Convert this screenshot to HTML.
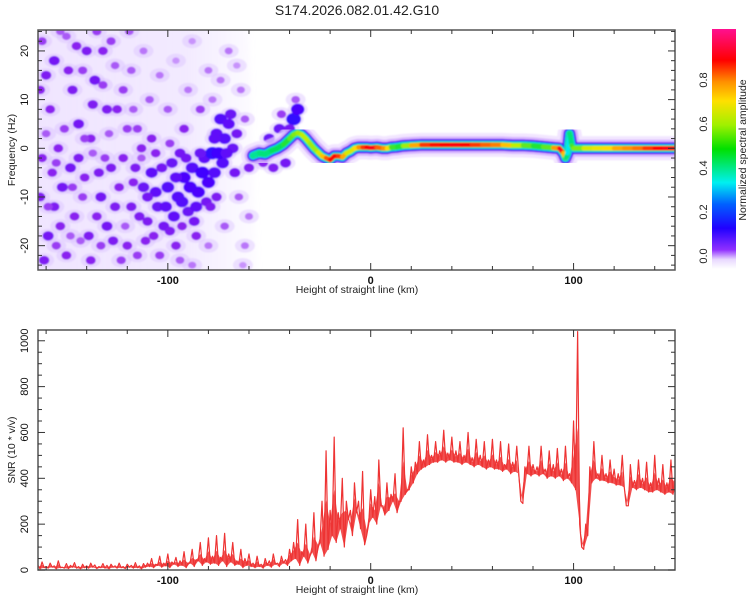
<!DOCTYPE html>
<html><head><meta charset="utf-8"><style>
body{margin:0;background:#fff;}
svg{display:block;font-family:"Liberation Sans",sans-serif;}
</style></head><body>
<svg id="chart" width="750" height="600" viewBox="0 0 750 600" xmlns="http://www.w3.org/2000/svg">
<defs>
<clipPath id="clipTop"><rect x="38" y="30" width="637" height="240"/></clipPath>
<clipPath id="clipBot"><rect x="38" y="330" width="637" height="240"/></clipPath>
<filter id="soft"><feGaussianBlur stdDeviation="0.9"/></filter>
<filter id="soft2"><feGaussianBlur stdDeviation="3"/></filter>
<linearGradient id="wash" x1="0" y1="0" x2="1" y2="0">
<stop offset="0" stop-color="#dcc4ff" stop-opacity="0.45"/>
<stop offset="0.7" stop-color="#dcc4ff" stop-opacity="0.35"/>
<stop offset="1" stop-color="#e8d8ff" stop-opacity="0.1"/>
</linearGradient>
<linearGradient id="cbar" x1="0" y1="1" x2="0" y2="0">
<stop offset="0" stop-color="#ffffff"/>
<stop offset="0.04" stop-color="#e8d8ff"/>
<stop offset="0.08" stop-color="#9030ff"/>
<stop offset="0.17" stop-color="#2000ff"/>
<stop offset="0.27" stop-color="#0060ff"/>
<stop offset="0.36" stop-color="#00f0f0"/>
<stop offset="0.5" stop-color="#00e000"/>
<stop offset="0.6" stop-color="#a0f000"/>
<stop offset="0.7" stop-color="#ffe000"/>
<stop offset="0.78" stop-color="#ff9000"/>
<stop offset="0.87" stop-color="#ff0000"/>
<stop offset="1" stop-color="#ff1090"/>
</linearGradient>
</defs>
<text x="357" y="15" font-size="14" text-anchor="middle" fill="#222">S174.2026.082.01.42.G10</text>
<g id="topPanel"></g>
<g id="botPanel"></g>
<g id="cbPanel"></g>
</svg>
<script>
// ---- spectrogram data ----
const ridgeX=[-58,-55,-52,-49,-46,-43,-40,-38,-36,-34,-32,-30,-28,-26,-24,-22,-20,-18,-16,-14,-12,-10,-8,-6,-4,-2,0,3,6,8,10,13,16,20,25,30,35,40,45,50,55,60,65,70,75,80,85,90,93,95,96,97,98,99,100,105,110,115,120,125,130,135,140,145,150];
const ridgeF=[-1.5,-1,-1.2,-0.5,0,0.8,2,2.8,3.2,2.8,2,1,0,-0.8,-1.6,-2,-2.4,-1.6,-1.6,-1.8,-1,-0.6,0,0.2,0.2,0.2,0.1,0.2,0,0,0.2,0.3,0.5,0.6,0.7,0.7,0.7,0.7,0.7,0.7,0.7,0.7,0.7,0.6,0.6,0.5,0.3,0.1,0,-1,-2,-1,3,0.5,0,0,0,0,0,0,0,0,0,0,0];
const ridgeA=[0.3,0.45,0.35,0.45,0.4,0.45,0.5,0.55,0.55,0.6,0.6,0.6,0.55,0.6,0.65,0.75,0.85,0.9,0.85,0.8,0.65,0.6,0.65,0.7,0.8,0.85,0.9,0.88,0.7,0.8,0.55,0.45,0.5,0.65,0.8,0.85,0.87,0.88,0.88,0.85,0.8,0.78,0.75,0.65,0.55,0.5,0.45,0.6,0.88,0.9,0.5,0.3,0.3,0.5,0.5,0.6,0.65,0.65,0.7,0.75,0.75,0.8,0.85,0.88,0.9];
const noise=[[-162,22,0.07],[-156,18,0.1],[-150,23,0.06],[-147,12,0.09],[-144,5,0.1],[-158,8,0.08],[-162,-2,0.08],[-152,-8,0.1],[-146,-14,0.08],[-159,-18,0.1],[-150,-22,0.08],[-140,20,0.09],[-136,14,0.1],[-138,2,0.08],[-134,-5,0.09],[-142,-10,0.07],[-130,-16,0.1],[-138,-23,0.08],[-128,22,0.07],[-125,8,0.08],[-122,-2,0.08],[-126,-12,0.09],[-120,-20,0.08],[-118,16,0.06],[-115,4,0.07],[-112,-8,0.11],[-108,-5,0.12],[-105,-12,0.11],[-100,-8,0.13],[-98,-3,0.11],[-95,-10,0.13],[-92,-6,0.14],[-90,-13,0.11],[-88,-4,0.13],[-85,-9,0.14],[-82,-2,0.12],[-80,-7,0.14],[-78,-1,0.16],[-76,3,0.12],[-74,6,0.13],[-72,2,0.13],[-70,5,0.12],[-73,-3,0.13],[-68,0,0.11],[-66,3,0.1],[-102,-16,0.1],[-110,-15,0.09],[-96,-20,0.08],[-108,2,0.08],[-100,8,0.06],[-90,12,0.05],[-80,16,0.05],[-70,20,0.05],[-65,-10,0.06],[-62,-20,0.05],[-64,12,0.05],[-115,-22,0.07],[-130,8,0.09],[-144,-2,0.09],[-156,-12,0.09],[-133,-10,0.1],[-118,-12,0.09],[-122,12,0.07],[-104,-22,0.07],[-86,-18,0.08],[-92,4,0.08],[-84,8,0.07],[-60,-4,0.09],[-56,-2,0.1],[-50,2,0.11],[-45,4,0.11],[-42,-3,0.1],[-38,6,0.16],[-36,8,0.14],[-48,-4,0.09],[-160,15,0.09],[-154,0,0.08],[-148,-4,0.1],[-142,16,0.07],[-132,20,0.08],[-128,-4,0.09],[-124,-8,0.08],[-120,4,0.07],[-116,-4,0.09],[-114,-14,0.09],[-106,-9,0.12],[-103,-4,0.1],[-97,-14,0.12],[-94,-1,0.1],[-89,-8,0.14],[-86,-12,0.12],[-83,-5,0.15],[-81,-11,0.1],[-77,-5,0.13],[-75,-1,0.15],[-71,-1,0.12],[-69,7,0.11],[-67,-5,0.1],[-163,-10,0.09],[-163,12,0.08],[-161,-23,0.09],[-153,-16,0.08],[-139,-18,0.09],[-135,-14,0.08],[-127,-19,0.09],[-123,-23,0.07],[-131,-2,0.07],[-137,9,0.09],[-145,21,0.08],[-151,4,0.07],[-157,-5,0.08],[-141,-6,0.08],[-111,-19,0.08],[-107,-18,0.08],[-99,-17,0.09],[-93,-16,0.08],[-109,10,0.06],[-112,20,0.05],[-104,15,0.05],[-96,18,0.04],[-88,22,0.04],[-78,10,0.05],[-74,14,0.05],[-66,17,0.04],[-62,6,0.06],[-60,-14,0.05],[-63,-24,0.04],[-72,-16,0.06],[-80,-20,0.05],[-88,-24,0.05],[-76,-10,0.09],[-94,-23,0.06],[-119,24,0.06],[-135,24,0.07],[-153,24,0.06],[-117,8,0.06],[-113,0,0.08],[-40,4,0.1],[-37,10,0.06],[-53,-3,0.08],[-44,7,0.07],
[-160,3,0.06],[-155,-20,0.07],[-149,16,0.08],[-143,-19,0.06],[-137,-1,0.06],[-132,13,0.07],[-129,3,0.06],[-126,17,0.06],[-121,-16,0.06],[-117,-7,0.08],[-113,-2,0.06],[-110,-10,0.1],[-106,-1,0.08],[-101,-12,0.12],[-99,1,0.07],[-96,-6,0.12],[-93,-11,0.13],[-91,-2,0.1],[-87,-15,0.1],[-84,-1,0.11],[-79,-12,0.09],[-77,2,0.12],[-155,-3,0.07],[-147,-8,0.07],[-141,2,0.07],[-159,-12,0.07],[-148,-18,0.06],[-133,-20,0.07]];
// ---- SNR data (2 km steps from -164) ----
const snrStart=-164, snrStep=2;
const snrHigh=[20,35,15,30,18,40,12,28,20,32,15,25,18,30,22,15,28,20,25,18,30,15,25,20,32,18,28,
30,50,25,60,30,70,35,55,40,80,30,90,45,120,50,140,60,150,55,160,70,120,40,90,50,70,
30,60,25,50,40,70,30,60,45,90,
120,220,80,200,60,250,100,300,520,260,
580,250,400,300,260,380,300,430,150,350,
320,480,280,380,330,420,300,620,350,450,
470,560,480,590,500,560,520,610,510,580,
520,560,500,600,490,570,500,560,480,570,
480,560,460,550,470,540,300,450,540,460,
450,540,440,520,460,530,440,540,420,650,
1040,100,200,450,560,420,500,420,480,440,
420,500,280,460,390,480,400,470,380,500,400,460,380,480,400];
const snrLow=[5,10,8,12,5,10,8,6,12,8,5,10,8,12,6,10,8,5,12,8,10,6,12,8,10,5,12,
15,10,20,12,18,10,25,15,20,10,30,15,40,20,35,25,30,20,40,15,35,20,25,10,20,15,
10,15,8,20,12,25,15,30,20,40,
50,20,60,30,80,40,120,60,90,150,
120,180,100,220,150,250,180,110,200,230,
200,280,240,260,300,250,300,330,350,380,
420,440,450,460,470,470,480,470,480,470,
470,460,470,460,450,460,450,440,450,440,
440,430,440,420,430,420,290,420,410,420,
410,420,400,410,400,410,390,400,380,350,
200,90,150,380,400,390,390,380,380,370,
370,360,280,360,350,360,350,340,340,350,340,330,340,330,360];
const xTicksMajor=[-100,0,100];
const fTickLabels=[-20,-10,0,10,20];
const snrTickLabels=[0,200,400,600,800,1000];
const cbTickLabels=[0.0,0.2,0.4,0.6,0.8];

const NS='http://www.w3.org/2000/svg';
const X0=38,X1=675,XMIN=-164,XMAX=150;
const xs=v=>X0+(v-XMIN)/(XMAX-XMIN)*(X1-X0);
const T0=30,T1=270,FMIN=-25,FMAX=24.3;
const fy=v=>T1-(v-FMIN)/(FMAX-FMIN)*(T1-T0);
const B0=330,B1=570,SMAX=1047;
const sy=v=>B1-v/SMAX*(B1-B0);
const cby=v=>256-v*220;
function mk(tag,attrs,parent){const e=document.createElementNS(NS,tag);for(const k in attrs)e.setAttribute(k,attrs[k]);parent.appendChild(e);return e;}
const stops=[[0,[240,224,255]],[0.03,[216,176,255]],[0.08,[138,32,240]],[0.15,[64,0,255]],[0.2,[0,48,255]],[0.3,[0,232,240]],[0.45,[0,224,64]],[0.6,[192,240,0]],[0.67,[255,224,0]],[0.75,[255,144,0]],[0.87,[255,0,0]],[1,[255,16,128]]];
function cmap(v){for(let i=1;i<stops.length;i++){if(v<=stops[i][0]){const a=stops[i-1],b=stops[i];const t=(v-a[0])/(b[0]-a[0]);const c=a[1].map((q,j)=>Math.round(q+(b[1][j]-q)*t));return `rgb(${c})`;}}return 'rgb(255,16,128)';}

const topG=document.getElementById('topPanel');
const botG=document.getElementById('botPanel');
const cbG=document.getElementById('cbPanel');

// ---- spectrogram marks ----
const plotT=mk('g',{'clip-path':'url(#clipTop)'},topG);


const wash=mk('path',{d:`M${xs(-170)},${fy(26)} L${xs(-60)},${fy(26)} L${xs(-56)},${fy(-26)} L${xs(-170)},${fy(-26)} Z`,fill:'url(#wash)',filter:'url(#soft2)'},plotT);


const ng=mk('g',{filter:'url(#soft)'},plotT);


noise.forEach(p=>{
  const h=mk('ellipse',{cx:xs(p[0]),cy:fy(p[1]),rx:10,ry:7,fill:'#d8bcff','fill-opacity':0.4},ng);
  
  
});
noise.forEach(p=>{
  const r=2.5+p[2]*30;
  const e=mk('ellipse',{cx:xs(p[0]),cy:fy(p[1]),rx:r,ry:r*0.85,fill:cmap(p[2])},ng);
  
  
});
const rg=mk('g',{filter:'url(#soft)'},plotT);


const pts=ridgeX.map((x,i)=>xs(x)+','+fy(ridgeF[i])).join(' ');
[[24,'#ecdcff',0.7],[17,'#c898ff',0.6],[12,'#7010f0',1],[10,'#2020ff',1],[8,'#00d8f0',1],[6,'#20e060',1]].forEach(s=>{
  const l=mk('polyline',{points:pts,fill:'none',stroke:s[1],'stroke-width':s[0],'stroke-opacity':s[2],'stroke-linejoin':'round','stroke-linecap':'round'},rg);
  
  
});
for(let i=0;i<ridgeX.length-1;i++){
  const a=(ridgeA[i]+ridgeA[i+1])/2;
  const l=mk('line',{x1:xs(ridgeX[i]),y1:fy(ridgeF[i]),x2:xs(ridgeX[i+1]),y2:fy(ridgeF[i+1]),stroke:cmap(a),'stroke-width':4.5,'stroke-linecap':'round'},rg);
  
  
}

// ---- axes helpers ----
function frame(g,y0,y1,name){
  const r=mk('rect',{x:X0,y:y0,width:X1-X0,height:y1-y0,fill:'none',stroke:'#555','stroke-width':1.5},g);
  
  
  for(let v=-160;v<=XMAX;v+=20){
    const L=(v%100===0)?7:4;
    mk('line',{x1:xs(v),y1:y1,x2:xs(v),y2:y1-L,stroke:'#333','stroke-width':1},g);
    mk('line',{x1:xs(v),y1:y0,x2:xs(v),y2:y0+L,stroke:'#333','stroke-width':1},g);
  }
  xTicksMajor.forEach(v=>{
    const t=mk('text',{x:xs(v),y:y1+14,'font-size':11,'font-weight':'bold','text-anchor':'middle',fill:'#111'},g);
    t.textContent=v;
    
    
  });
  const xl=mk('text',{x:357,y:y1+23,'font-size':10.5,'text-anchor':'middle',fill:'#222'},g);
  xl.textContent='Height of straight line (km)';
  
  
}
frame(topG,T0,T1,'spectrogram-frame');
for(let v=-24;v<=24;v+=2){
  const L=(v%10===0)?7:4;
  mk('line',{x1:X0,y1:fy(v),x2:X0+L,y2:fy(v),stroke:'#333'},topG);
  mk('line',{x1:X1,y1:fy(v),x2:X1-L,y2:fy(v),stroke:'#333'},topG);
}
fTickLabels.forEach(v=>{
  const t=mk('text',{x:0,y:0,transform:`translate(28,${fy(v)}) rotate(-90)`,'font-size':11,'text-anchor':'middle',fill:'#111'},topG);
  t.textContent=v;
  
  
});
const fyl=mk('text',{x:0,y:0,transform:'translate(15,150) rotate(-90)','font-size':10.5,'text-anchor':'middle',fill:'#222'},topG);
fyl.textContent='Frequency (Hz)';



// ---- SNR plot ----
const plotB=mk('g',{'clip-path':'url(#clipBot)'},botG);


const upper=snrHigh.map((v,i)=>xs(snrStart+i*snrStep)+','+sy(snrLow[i]+(v-snrLow[i])*0.5));
const lower=snrLow.map((v,i)=>xs(snrStart+i*snrStep+1)+','+sy(v)).reverse();
const band=mk('polygon',{points:upper.concat(lower).join(' '),fill:'#ee3333','fill-opacity':0.85,stroke:'none'},plotB);


let sp=[];
snrHigh.forEach((v,i)=>{const x=snrStart+i*snrStep;sp.push(xs(x)+','+sy(v));sp.push(xs(x+1)+','+sy(snrLow[i]));});
const line=mk('polyline',{points:sp.join(' '),fill:'none',stroke:'#ee3333','stroke-width':1.2,'stroke-linejoin':'round'},plotB);


frame(botG,B0,B1,'snr-frame');
for(let v=0;v<=1000;v+=50){
  const L=(v%200===0)?7:4;
  mk('line',{x1:X0,y1:sy(v),x2:X0+L,y2:sy(v),stroke:'#333'},botG);
  mk('line',{x1:X1,y1:sy(v),x2:X1-L,y2:sy(v),stroke:'#333'},botG);
}
snrTickLabels.forEach(v=>{
  const t=mk('text',{x:0,y:0,transform:`translate(28,${sy(v)}) rotate(-90)`,'font-size':11,'text-anchor':'middle',fill:'#111'},botG);
  t.textContent=v;
  
  
});
const syl=mk('text',{x:0,y:0,transform:'translate(15,450) rotate(-90)','font-size':10.5,'text-anchor':'middle',fill:'#222'},botG);
syl.textContent='SNR (10 * v/v)';



// ---- colorbar ----
const cr=mk('rect',{x:712,y:29,width:24,height:240,fill:'url(#cbar)'},cbG);


cbTickLabels.forEach(v=>{
  const t=mk('text',{x:0,y:0,transform:`translate(707,${cby(v)}) rotate(-90)`,'font-size':11,'text-anchor':'middle',fill:'#222'},cbG);
  t.textContent=v.toFixed(1);
  
  
});
const cl=mk('text',{x:0,y:0,transform:'translate(746,150) rotate(-90)','font-size':10.5,'text-anchor':'middle',fill:'#222'},cbG);
cl.textContent='Normalized spectral amplitude';


</script>
</body></html>
